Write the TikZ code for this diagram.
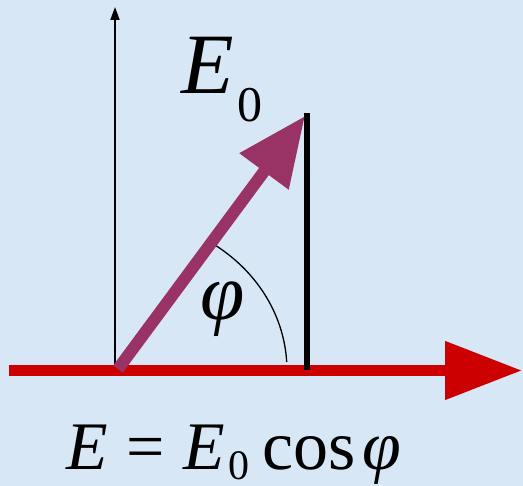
\documentclass[tikz,border=0pt]{standalone}
\usepackage{fontspec}
\setmainfont{Liberation Serif}
\usetikzlibrary{arrows.meta}
\definecolor{bg}{RGB}{215,231,246}
\definecolor{axred}{RGB}{204,0,0}
\definecolor{vecpurple}{RGB}{153,51,102}
\tikzset{
  lbl/.style={inner sep=0pt, outer sep=0pt, anchor=base west, text=black},
  thinaxis/.style={draw=black, line width=1.8pt, -{Triangle[length=13pt,width=9pt]}},
  redaxis/.style={draw=axred, line width=11pt, -{Triangle[length=77pt,width=56pt]}},
  vecarrow/.style={draw=vecpurple, line width=12pt, -{Triangle[length=69pt,width=58pt]}},
  projline/.style={draw=black, line width=6pt},
  anglearc/.style={draw=black, line width=1.3pt}
}
\begin{document}
\begin{tikzpicture}[x=1pt,y=1pt]
\fill[bg] (0,0) rectangle (523,486);
\useasboundingbox (0,0) rectangle (523,486);
% coordinates
\coordinate (O) at (115,116);
\coordinate (Vtop) at (115,479);
\coordinate (Rstart) at (9,115.5);
\coordinate (Rend) at (522,115.5);
\coordinate (Pstart) at (118,117);
\coordinate (Ptip) at (305,370);
\coordinate (Btop) at (307,373);
\coordinate (Bbot) at (307,116);
% thin vertical axis
\draw[thinaxis] (O) -- (Vtop);
% red horizontal axis
\draw[redaxis] (Rstart) -- (Rend);
% projection line
\draw[projline] (Btop) -- (Bbot);
% angle arc
\draw[anglearc] (212,242.8) arc[start angle=56, end angle=3, x radius=170, y radius=153];
% vector
\draw[vecarrow] (Pstart) -- (Ptip);
% labels
\node[lbl, font=\fontsize{86}{90}\selectfont\itshape] (E0E) at (181,392) {E};
\node[lbl, font=\fontsize{50}{54}\selectfont] (E0sub) at (237,364) {0};
\node[lbl, font=\fontsize{80}{84}\selectfont\itshape] (phi) at (200,166) {φ};
% formula
\node[lbl, font=\fontsize{68}{72}\selectfont\itshape] (fE) at (66,16) {E};
\node[lbl, font=\fontsize{68}{72}\selectfont] (feq) at (126,16) {=};
\node[lbl, font=\fontsize{68}{72}\selectfont\itshape] (fE2) at (183,16) {E};
\node[lbl, font=\fontsize{42}{46}\selectfont] (fsub) at (228,6) {0};
\node[lbl, font=\fontsize{70}{74}\selectfont] (fcos) at (262,16) {cos};
\node[lbl, font=\fontsize{70}{74}\selectfont\itshape] (fphi) at (362,16) {φ};
\end{tikzpicture}
\end{document}
